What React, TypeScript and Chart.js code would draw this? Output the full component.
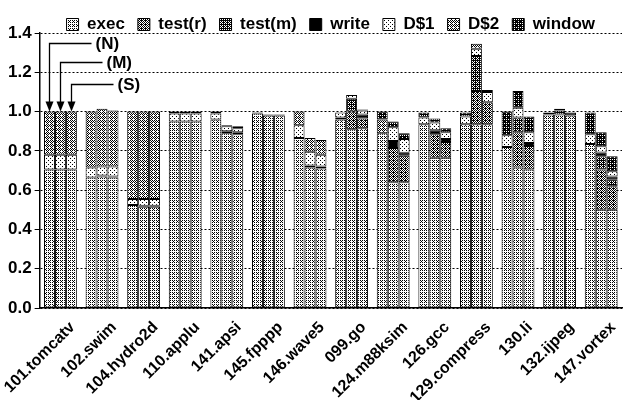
import { useEffect, useRef } from 'react';
import { Chart, registerables } from 'chart.js';

Chart.register(...registerables);

const FONT = '"Liberation Sans", Arial, Helvetica, sans-serif';

const LABELS = ['101.tomcatv', '102.swim', '104.hydro2d', '110.applu', '141.apsi', '145.fpppp', '146.wave5',
  '099.go', '124.m88ksim', '126.gcc', '129.compress', '130.li', '132.ijpeg', '147.vortex'];
const COMPONENTS = ['exec', 'test(r)', 'test(m)', 'write', 'D$1', 'D$2', 'window'];
const STACKS = ['N', 'M', 'S'];
const Y_TICKS = [0, 0.2, 0.4, 0.6, 0.8, 1.0, 1.2, 1.4];

// (N) bars
const execN = [0.705, 0.665, 0.525, 0.95, 0.96, 0.99, 0.865, 0.96, 0.89, 0.935, 0.935, 0.82, 0.985, 0.835];
const testRN = [0, 0, 0, 0, 0, 0, 0, 0, 0, 0, 0, 0, 0, 0];
const testMN = [0, 0, 0, 0, 0, 0, 0, 0, 0, 0, 0, 0, 0, 0];
const writeN = [0, 0, 0, 0, 0, 0.005, 0, 0.01, 0, 0, 0, 0, 0.01, 0];
const d1N = [0.075, 0.05, 0.03, 0.04, 0.03, 0, 0.065, 0.025, 0, 0.035, 0.04, 0.06, 0, 0.05];
const d2N = [0.22, 0.285, 0.445, 0.01, 0.01, 0, 0.07, 0, 0.07, 0, 0, 0, 0, 0];
const windowN = [0, 0, 0, 0, 0, 0, 0, 0, 0.04, 0.025, 0.02, 0.12, 0, 0.11];

// (M) bars
const execM = [0.705, 0.67, 0.515, 0.95, 0.89, 0.98, 0.715, 0.91, 0.64, 0.765, 0.935, 0.715, 0.985, 0.5];
const testRM = [0, 0, 0, 0, 0, 0, 0, 0.09, 0.175, 0.12, 0.17, 0.18, 0, 0.205];
const testMM = [0, 0, 0, 0, 0, 0, 0, 0.065, 0, 0, 0.178, 0.075, 0.02, 0.067];
const writeM = [0, 0.005, 0.005, 0, 0.01, 0.005, 0.01, 0, 0.035, 0.02, 0, 0, 0.01, 0.02];
const d1M = [0.075, 0.045, 0.035, 0.04, 0.025, 0, 0.07, 0.02, 0.07, 0.04, 0.037, 0.05, 0, 0.031];
const d2M = [0.22, 0.295, 0.445, 0.01, 0.005, 0, 0.07, 0, 0, 0, 0.025, 0, 0, 0];
const windowM = [0, 0, 0, 0, 0, 0, 0, 0, 0.03, 0.02, 0, 0.085, 0, 0.072];

// (S) bars
const execS = [0.705, 0.665, 0.515, 0.95, 0.885, 0.98, 0.71, 0.915, 0.64, 0.765, 0.935, 0.705, 0.98, 0.5];
const testRS = [0, 0, 0, 0, 0, 0, 0, 0.05, 0.135, 0.08, 0.112, 0.12, 0, 0.12];
const testMS = [0, 0, 0, 0, 0, 0, 0, 0, 0, 0, 0, 0, 0, 0.035];
const writeS = [0, 0.005, 0.005, 0, 0.01, 0.005, 0.01, 0.02, 0.015, 0.015, 0, 0.015, 0.015, 0.015];
const d1S = [0.075, 0.05, 0.035, 0.04, 0.02, 0, 0.06, 0.02, 0.07, 0.035, 0.053, 0.055, 0, 0.026];
const d2S = [0.22, 0.285, 0.445, 0.01, 0.01, 0, 0.075, 0.005, 0, 0, 0, 0, 0, 0];
const windowS = [0, 0, 0, 0, 0, 0, 0, 0, 0.03, 0.02, 0.01, 0.08, 0, 0.076];

const SERIES = [
  [execN, testRN, testMN, writeN, d1N, d2N, windowN],
  [execM, testRM, testMM, writeM, d1M, d2M, windowM],
  [execS, testRS, testMS, writeS, d1S, d2S, windowS],
];

// dither density (out of 16) for each component
const DITHER = [5, 9, 11, 16, 2, 7, 13];

const ARROW_LABELS = ['(N)', '(M)', '(S)'];
const ARROW_LEVELS = [1.35, 1.25, 1.14];

const BAYER = [[0, 8, 2, 10], [12, 4, 14, 6], [3, 11, 1, 9], [15, 7, 13, 5]];

function makeFill(level: number): CanvasPattern | string {
  if (level >= 16) return '#000';
  const c = document.createElement('canvas');
  c.width = 4; c.height = 4;
  const g = c.getContext('2d')!;
  g.fillStyle = '#fff';
  g.fillRect(0, 0, 4, 4);
  g.fillStyle = '#000';
  for (let y = 0; y < 4; y++) for (let x = 0; x < 4; x++) if (BAYER[y][x] < level) g.fillRect(x, y, 1, 1);
  return g.createPattern(c, 'repeat')!;
}

const arrowPlugin = {
  id: 'nmsArrows',
  afterDatasetsDraw(chart: any) {
    const ctx = chart.ctx as CanvasRenderingContext2D;
    const ys = chart.scales.y;
    ARROW_LABELS.forEach((label, s) => {
      const bar = chart.getDatasetMeta(s * COMPONENTS.length).data[0];
      if (!bar) return;
      const x = Math.round(bar.x) + 0.5;
      const total = SERIES[s].reduce((acc, arr) => acc + arr[0], 0);
      const tipY = ys.getPixelForValue(total);
      const lineY = Math.round(ys.getPixelForValue(ARROW_LEVELS[s])) + 0.5;
      ctx.save();
      ctx.strokeStyle = '#000';
      ctx.fillStyle = '#000';
      ctx.lineWidth = 1.3;
      ctx.beginPath();
      ctx.moveTo(x + 42, lineY);
      ctx.lineTo(x, lineY);
      ctx.lineTo(x, tipY - 8);
      ctx.stroke();
      ctx.beginPath();
      ctx.moveTo(x - 4, tipY - 10);
      ctx.lineTo(x + 4, tipY - 10);
      ctx.lineTo(x, tipY);
      ctx.closePath();
      ctx.fill();
      ctx.font = 'bold 17px ' + FONT;
      ctx.textAlign = 'left';
      ctx.textBaseline = 'middle';
      ctx.fillText(label, x + 46, lineY + 1);
      ctx.restore();
    });
  },
};

export default function App() {
  const ref = useRef<HTMLCanvasElement>(null);
  useEffect(() => {
    document.body.style.margin = '0';
    const fills = DITHER.map(makeFill);
    const datasets: any[] = [];
    STACKS.forEach((s, si) => {
      COMPONENTS.forEach((c, ci) => {
        datasets.push({
          label: c,
          stack: s,
          data: SERIES[si][ci].map((v) => (v > 0 ? v : null)),
          backgroundColor: fills[ci],
          borderColor: '#000',
          borderWidth: 1,
          borderSkipped: false,
          barPercentage: 1,
          categoryPercentage: 0.79,
        });
      });
    });
    const chart = new Chart(ref.current!, {
      type: 'bar',
      data: { labels: LABELS, datasets },
      plugins: [arrowPlugin],
      options: {
        animation: false,
        responsive: true,
        maintainAspectRatio: false,
        layout: { padding: { left: 5, right: 2, top: 3, bottom: 0 } },
        plugins: {
          tooltip: { enabled: false },
          legend: {
            position: 'top',
            fullSize: false,
            maxHeight: 30,
            labels: {
              boxWidth: 12,
              boxHeight: 12,
              padding: 13,
              color: '#000',
              font: { family: FONT, size: 17, weight: 'bold' },
              filter: (item: any) => item.datasetIndex < COMPONENTS.length,
            },
          },
        },
        scales: {
          x: {
            stacked: true,
            grid: { display: false },
            border: { display: true, color: '#000', width: 1.5 },
            afterFit: (scale: any) => {
              scale.paddingLeft = 0;
              scale.paddingRight = 0;
              scale.height = 92;
            },
            ticks: {
              color: '#000',
              font: { family: FONT, size: 16, weight: 'bold' },
              minRotation: 45,
              maxRotation: 45,
              autoSkip: false,
              padding: 2,
              labelOffset: 12,
            },
          },
          y: {
            stacked: true,
            min: 0,
            max: 1.4,
            afterBuildTicks: (scale: any) => {
              scale.ticks = Y_TICKS.map((v) => ({ value: v }));
            },
            grid: { color: '#000', lineWidth: 1, tickLength: 5, tickColor: '#000' },
            border: { display: true, color: '#000', width: 1.5, dash: [2, 2] },
            ticks: {
              color: '#000',
              font: { family: FONT, size: 17, weight: 'bold' },
              padding: 3,
              callback: (v: any) => Number(v).toFixed(1),
            },
          },
        },
      },
    });
    return () => chart.destroy();
  }, []);
  return (
    <div style={{ width: 624, height: 400, position: 'relative' }}>
      <canvas ref={ref} />
    </div>
  );
}
